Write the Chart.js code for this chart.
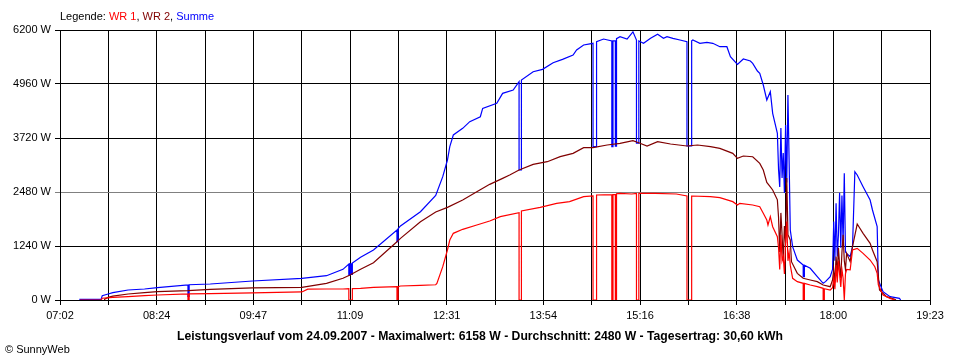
<!DOCTYPE html>
<html>
<head>
<meta charset="utf-8">
<script src="https://cdn.jsdelivr.net/npm/chart.js@4.4.1/dist/chart.umd.min.js"></script>
<style>
  html, body { margin: 0; padding: 0; background: #fff; }
  #wrap { position: relative; width: 960px; height: 360px; overflow: hidden; }
  #chart { position: absolute; left: 0; top: 0; }
  .txt { position: absolute; font-family: "Liberation Sans", Arial, sans-serif; font-size: 11px; white-space: nowrap; color: #000; line-height: 13px; }
  #legend { left: 60px; top: 10px; }
  #caption { left: 0; width: 960px; text-align: center; top: 330px; font-weight: bold; font-size: 12.2px; }
  #copy { left: 5px; top: 343px; }
</style>
</head>
<body>
<div id="wrap">
  <canvas id="chart" width="960" height="360"></canvas>
  <div id="legend" class="txt">Legende: <span style="color:#ff0000">WR 1</span>, <span style="color:#800000">WR 2</span>, <span style="color:#0000ff">Summe</span></div>
  <div id="caption" class="txt">Leistungsverlauf vom 24.09.2007 - Maximalwert: 6158 W - Durchschnitt: 2480 W - Tagesertrag: 30,60 kWh</div>
  <div id="copy" class="txt">&copy; SunnyWeb</div>
</div>
<script>
// ---- tick labels ----
const xTickLabels = ["07:02","08:24","09:47","11:09","12:31","13:54","15:16","16:38","18:00","19:23"];
const yTickValues = [0, 1240, 2480, 3720, 4960, 6200];

// ---- series: [time, watts] ----
const wr1 = [
["07:19",0],["07:37",0],["07:38",40],["07:47",60],["08:00",76],["08:14",100],["08:25",115],["08:51",138],["08:51",0],["08:52",0],["08:52",140],
["09:10",145],["09:46",165],["10:28",185],["10:33",250],["10:49",253],["11:03",253],["11:08",260],["11:08",0],["11:11",0],["11:11",262],
["11:18",268],["11:29",290],["11:49",306],["11:49",0],["11:50",0],["11:50",306],["11:52",321],["12:09",337],["12:22",350],["12:23",380],
["12:28",766],["12:32",1148],["12:34",1378],["12:37",1531],["12:45",1623],["12:57",1722],["13:08",1814],["13:17",1914],["13:33",2005],
["13:33",0],["13:35",0],["13:35",2044],["13:51",2128],["14:05",2220],["14:16",2258],["14:28",2373],["14:36",2388],["14:36",0],["14:39",0],
["14:39",2411],["14:52",2420],["14:52",0],["14:53",0],["14:53",2420],["14:55",2420],["14:55",0],["14:56",0],["14:56",2440],["14:59",2449],
["15:09",2434],["15:13",2449],["15:13",0],["15:15",0],["15:15",2449],["15:29",2449],["15:47",2434],["15:56",2388],["15:56",0],["16:00",0],
["16:00",2388],["16:16",2373],["16:24",2350],["16:35",2258],["16:39",2181],["16:41",2220],["16:52",2181],["16:58",2143],["17:01",1990],
["17:04",1837],["17:05",1722],["17:07",1913],["17:09",1683],["17:13",1454],["17:14",1200],["17:15",700],["17:16",1500],["17:17",900],
["17:18",1000],["17:19",600],["17:20",1300],["17:21",1800],["17:22",900],["17:23",1100],["17:24",800],["17:26",498],["17:30",421],
["17:35",383],["17:35",0],["17:36",0],["17:36",383],["17:41",344],["17:47",306],["17:52",268],["17:52",0],["17:53",0],["17:53",260],
["17:58",230],["18:00",280],["18:01",500],["18:02",250],["18:03",800],["18:04",400],["18:05",900],["18:06",600],["18:07",300],["18:08",700],
["18:09",500],["18:10",0],["18:11",600],["18:12",700],["18:15",690],["18:17",1148],["18:21",1186],["18:26",1071],["18:32",918],["18:36",765],
["18:38",612],["18:39",350],["18:43",115],["18:49",38],["18:53",0]
];

const wr2 = [
["07:40",0],["07:40",20],["07:43",60],["07:47",90],["08:00",138],["08:14",168],["08:25",191],["08:51",214],["09:10",245],["09:46",280],
["10:28",291],["10:49",383],["11:03",498],["11:09",574],["11:18",704],["11:29",857],["11:49",1339],["11:52",1416],["12:09",1798],["12:22",2020],
["12:32",2128],["12:45",2296],["12:57",2487],["13:08",2656],["13:19",2793],["13:25",2870],["13:33",2985],["13:45",3115],["13:57",3176],
["14:08",3291],["14:19",3368],["14:28",3498],["14:36",3498],["14:48",3559],["14:59",3598],["15:10",3658],["15:16",3600],["15:22",3536],
["15:31",3636],["15:42",3582],["15:56",3536],["16:05",3559],["16:16",3521],["16:24",3483],["16:35",3368],["16:39",3253],["16:44",3307],
["16:52",3290],["16:58",3138],["17:01",2985],["17:04",2700],["17:07",2600],["17:09",2526],["17:13",2300],["17:14",1900],["17:15",1100],
["17:16",2000],["17:17",1500],["17:18",900],["17:19",1700],["17:20",1300],["17:21",2800],["17:22",1500],["17:24",1378],["17:25",880],
["17:30",612],["17:35",498],["17:41",459],["17:47",421],["17:52",344],["17:58",306],["18:00",459],["18:01",700],["18:02",400],["18:03",1000],
["18:04",600],["18:05",1200],["18:06",800],["18:07",500],["18:08",1100],["18:09",1500],["18:10",900],["18:11",700],["18:12",1071],
["18:15",880],["18:17",1224],["18:21",1745],["18:26",1531],["18:32",1301],["18:34",1148],["18:38",880],["18:40",230],["18:46",76],
["18:53",15],["18:54",0]
];

const summe = [
["07:19",0],["07:19",15],["07:37",15],["07:38",100],["07:43",138],["07:47",168],["08:00",230],["08:14",253],["08:25",283],["08:51",344],
["08:51",80],["08:52",80],["08:52",350],["09:10",367],["09:46",436],["10:28",498],["10:49",558],["11:03",704],["11:08",827],["11:08",574],
["11:09",574],["11:09",830],["11:10",830],["11:10",590],["11:11",590],["11:11",850],["11:18",980],["11:29",1148],["11:49",1607],["11:49",1339],
["11:50",1339],["11:50",1640],["11:52",1700],["12:09",2027],["12:22",2400],["12:28",2832],["12:32",3215],["12:34",3521],["12:37",3789],
["12:45",3942],["12:51",4095],["13:00",4209],["13:02",4401],["13:14",4516],["13:19",4745],["13:28",4822],["13:33",5013],["13:33",2985],
["13:35",2985],["13:35",5052],["13:45",5242],["13:53",5297],["14:02",5449],["14:10",5526],["14:19",5626],["14:22",5741],["14:28",5855],
["14:36",5894],["14:36",3521],["14:39",3521],["14:39",5932],["14:45",5993],["14:52",5947],["14:52",3520],["14:53",3520],["14:53",5950],
["14:55",5950],["14:55",3530],["14:56",3530],["14:56",6000],["14:59",6047],["15:05",5993],["15:10",6158],["15:13",5970],["15:13",3600],
["15:15",3600],["15:15",5950],["15:19",5894],["15:25",6009],["15:31",6101],["15:36",6009],["15:39",6047],["15:44",6009],["15:50",5970],
["15:56",5932],["15:56",3536],["16:00",3536],["16:00",5950],["16:01",5970],["16:07",5894],["16:13",5917],["16:18",5894],["16:24",5817],
["16:30",5817],["16:33",5588],["16:39",5411],["16:44",5534],["16:50",5488],["16:52",5434],["16:56",5258],["16:58",5205],["17:01",4937],
["17:04",4593],["17:07",4783],["17:09",4287],["17:13",3827],["17:14",3000],["17:15",2595],["17:16",3950],["17:17",2800],["17:18",3375],
["17:19",2457],["17:20",4018],["17:21",2700],["17:22",4707],["17:23",3200],["17:24",1607],["17:26",1224],["17:28",1071],["17:30",918],
["17:35",804],["17:35",536],["17:36",536],["17:36",800],["17:41",727],["17:47",536],["17:52",383],["17:54",421],["17:58",536],["18:00",700],
["18:01",1800],["18:02",900],["18:03",2220],["18:04",1000],["18:05",1500],["18:06",2465],["18:07",1200],["18:08",2400],["18:09",1300],
["18:10",2909],["18:11",1100],["18:12",1071],["18:15",995],["18:17",1224],["18:19",2946],["18:21",2870],["18:26",2602],["18:32",2296],
["18:34",2067],["18:38",1683],["18:39",459],["18:43",191],["18:49",76],["18:57",38],["18:58",0]
];

// ---- helpers ----
function toMin(hhmm) { const p = hhmm.split(":"); return (+p[0]) * 60 + (+p[1]); }
function toXY(arr) { return arr.map(function (d) { return { x: toMin(d[0]), y: d[1] }; }); }

const X_MIN = toMin(xTickLabels[0]);
const X_MAX = toMin(xTickLabels[xTickLabels.length - 1]);
const FONT = { family: '"Liberation Sans", Arial, sans-serif', size: 11 };

Chart.defaults.color = '#000';
Chart.defaults.font.family = FONT.family;
Chart.defaults.font.size = FONT.size;

new Chart(document.getElementById('chart').getContext('2d'), {
  type: 'line',
  data: {
    datasets: [
      { label: 'WR 1', data: toXY(wr1), borderColor: '#ff0000', borderWidth: 1.2, pointRadius: 0, fill: false, tension: 0, order: 1 },
      { label: 'WR 2', data: toXY(wr2), borderColor: '#800000', borderWidth: 1.2, pointRadius: 0, fill: false, tension: 0, order: 2 },
      { label: 'Summe', data: toXY(summe), borderColor: '#0000ff', borderWidth: 1.2, pointRadius: 0, fill: false, tension: 0, order: 3 }
    ]
  },
  options: {
    responsive: false,
    animation: false,
    events: [],
    layout: { padding: { left: 0, right: 30, top: 30, bottom: 30 } },
    plugins: { legend: { display: false }, tooltip: { enabled: false }, title: { display: false } },
    scales: {
      x: {
        type: 'linear',
        min: X_MIN,
        max: X_MAX,
        afterBuildTicks: function (axis) {
          const n = (xTickLabels.length - 1) * 2;
          const ticks = [];
          for (let i = 0; i <= n; i++) ticks.push({ value: X_MIN + i * (X_MAX - X_MIN) / n });
          axis.ticks = ticks;
        },
        afterFit: function (s) { s.height = 30; },
        ticks: {
          autoSkip: false,
          maxRotation: 0,
          padding: 4,
          color: '#000',
          font: FONT,
          callback: function (v, i) { return i % 2 === 0 ? xTickLabels[i / 2] : ''; }
        },
        grid: { color: '#000', lineWidth: 1, tickLength: 5, drawTicks: true },
        border: { color: '#000', width: 1 }
      },
      y: {
        min: 0,
        max: 6200,
        afterBuildTicks: function (axis) { axis.ticks = yTickValues.map(function (v) { return { value: v }; }); },
        afterFit: function (s) { s.width = 60; },
        ticks: {
          padding: 4,
          color: '#000',
          font: FONT,
          callback: function (v) { return v + ' W'; }
        },
        grid: {
          lineWidth: 1,
          tickLength: 5,
          color: function (c) { return c.tick && c.tick.value === 2480 ? '#808080' : '#000'; }
        },
        border: { color: '#000', width: 1 }
      }
    }
  }
});
</script>
</body>
</html>
